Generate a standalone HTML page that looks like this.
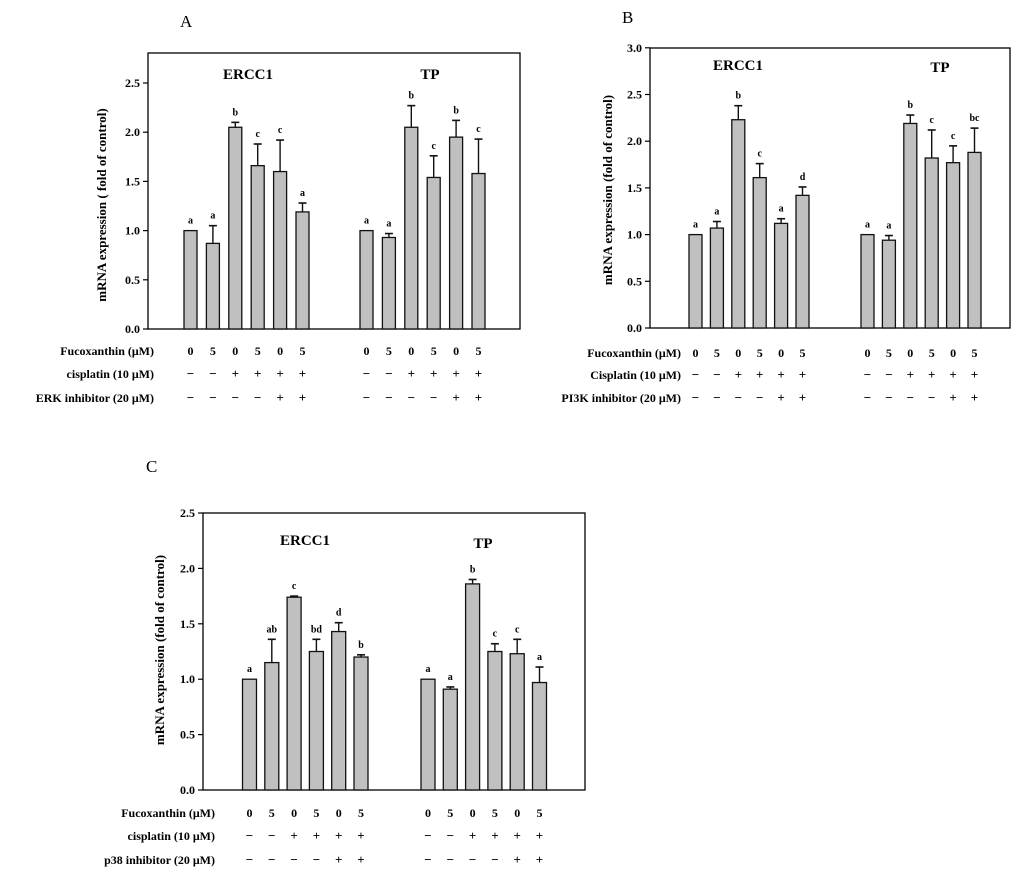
<!DOCTYPE html>
<html><head><meta charset="utf-8">
<style>
body{margin:0;background:#fff;}
svg{display:block;font-family:"Liberation Serif",serif;font-weight:bold;}
</style></head>
<body>
<svg id="fig" width="1024" height="874" viewBox="0 0 1024 874">
<text x="180" y="27" font-size="17" font-weight="normal">A</text>
<text x="622" y="23" font-size="17" font-weight="normal">B</text>
<text x="146" y="472" font-size="17" font-weight="normal">C</text>
</svg>
<script>
// Panel A data
const groupsA = ["ERCC1", "TP"];
const ercc1A = [1.0, 0.87, 2.05, 1.66, 1.60, 1.19];
const ercc1ErrA = [1.0, 1.05, 2.10, 1.88, 1.92, 1.28];
const ercc1LetA = ["a","a","b","c","c","a"];
const tpA = [1.0, 0.93, 2.05, 1.54, 1.95, 1.58];
const tpErrA = [1.0, 0.97, 2.27, 1.76, 2.12, 1.93];
const tpLetA = ["a","a","b","c","b","c"];
const ticksA = ["0.0","0.5","1.0","1.5","2.0","2.5"];
// Panel B data
const ercc1B = [1.0, 1.07, 2.23, 1.61, 1.12, 1.42];
const ercc1ErrB = [1.0, 1.14, 2.38, 1.76, 1.17, 1.51];
const ercc1LetB = ["a","a","b","c","a","d"];
const tpB = [1.0, 0.94, 2.19, 1.82, 1.77, 1.88];
const tpErrB = [1.0, 0.99, 2.28, 2.12, 1.95, 2.14];
const tpLetB = ["a","a","b","c","c","bc"];
const ticksB = ["0.0","0.5","1.0","1.5","2.0","2.5","3.0"];
// Panel C data
const ercc1C = [1.0, 1.15, 1.74, 1.25, 1.43, 1.20];
const ercc1ErrC = [1.0, 1.36, 1.75, 1.36, 1.51, 1.22];
const ercc1LetC = ["a","ab","c","bd","d","b"];
const tpC = [1.0, 0.91, 1.86, 1.25, 1.23, 0.97];
const tpErrC = [1.0, 0.93, 1.90, 1.32, 1.36, 1.11];
const tpLetC = ["a","a","b","c","c","a"];
const ticksC = ["0.0","0.5","1.0","1.5","2.0","2.5"];
// treatment rows
const fucoRow = ["0","5","0","5","0","5"];
const cisRow = ["\u2212","\u2212","+","+","+","+"];
const inhRow = ["\u2212","\u2212","\u2212","\u2212","+","+"];

const NS="http://www.w3.org/2000/svg";
const svg=document.getElementById('fig');
function mk(tag,attrs,txt){const e=document.createElementNS(NS,tag);for(const k in attrs)e.setAttribute(k,attrs[k]);if(txt!==undefined)e.textContent=txt;return e;}

function panel(p){
  const g=mk('g',{});
  
  
  svg.appendChild(g);
  const y=v=>p.y0-v*p.pxPerUnit;
  const fr=mk('rect',{x:p.x0,y:p.top,width:p.right-p.x0,height:p.y0-p.top,fill:'none',stroke:'#000','stroke-width':1.3});
  
  
  g.appendChild(fr);
  p.ticks.forEach(t=>{
    const yy=y(parseFloat(t));
    g.appendChild(mk('line',{x1:p.x0-5,x2:p.x0,y1:yy,y2:yy,stroke:'#000','stroke-width':1.2}));
    const tl=mk('text',{x:p.x0-8,y:yy+4,'font-size':12,'text-anchor':'end'},t);
    
    
    g.appendChild(tl);
  });
  const yt=mk('text',{x:0,y:0,'font-size':13,'text-anchor':'middle',transform:`translate(${p.ytX},${p.ytY}) rotate(-90)`},p.ytitle);
  
  
  g.appendChild(yt);
  const series=[[p.e,p.ee,p.el,p.ex,'ercc1'],[p.t,p.te,p.tl,p.tx,'tp']];
  series.forEach((s,si)=>{
    const [vals,errs,lets,xs,nm]=s;
    const ti=mk('text',{x:p.titleX[si],y:p.titleY[si],'font-size':15,'text-anchor':'middle'},groupsA[si]);
    
    
    g.appendChild(ti);
    vals.forEach((v,i)=>{
      const cx=xs+i*p.step, w=p.bw;
      const b=mk('rect',{x:cx-w/2,y:y(v),width:w,height:p.y0-y(v),fill:'#c0c0c0',stroke:'#111','stroke-width':1.3});
      
      
      g.appendChild(b);
      const et=errs[i];
      if(et>v+0.005){
        g.appendChild(mk('line',{x1:cx,x2:cx,y1:y(v),y2:y(et),stroke:'#111','stroke-width':1.4}));
        g.appendChild(mk('line',{x1:cx-4,x2:cx+4,y1:y(et),y2:y(et),stroke:'#111','stroke-width':1.6}));
      }
      const lt=mk('text',{x:cx,y:y(Math.max(et,v))-7,'font-size':10,'text-anchor':'middle'},lets[i]);
      
      
      g.appendChild(lt);
      [fucoRow,cisRow,inhRow].forEach((row,ri)=>{
        const tt=mk('text',{x:cx,y:p.rowY[ri]+4,'font-size':ri===0?12:13,'text-anchor':'middle'},row[i]);
        
        
        g.appendChild(tt);
      });
    });
  });
  p.rowLabels.forEach((l,ri)=>{
    const tt=mk('text',{x:p.labelX,y:p.rowY[ri]+4,'font-size':12,'text-anchor':'end'},l);
    
    
    g.appendChild(tt);
  });
}

panel({name:'panel-a',x0:148,right:520,top:53,y0:329,pxPerUnit:98.4,ticks:ticksA,
  ytitle:'mRNA expression ( fold of control)',ytX:106,ytY:205,
  e:ercc1A,ee:ercc1ErrA,el:ercc1LetA,t:tpA,te:tpErrA,tl:tpLetA,
  ex:190.5,tx:366.5,step:22.4,bw:13,titleX:[248,430],titleY:[79,79],
  rowY:[351,374,398],labelX:154,
  rowLabels:['Fucoxanthin (\u03BCM)','cisplatin (10 \u03BCM)','ERK inhibitor (20 \u03BCM)']});
panel({name:'panel-b',x0:650,right:1010,top:48,y0:328,pxPerUnit:93.4,ticks:ticksB,
  ytitle:'mRNA expression (fold of control)',ytX:612,ytY:190,
  e:ercc1B,ee:ercc1ErrB,el:ercc1LetB,t:tpB,te:tpErrB,tl:tpLetB,
  ex:695.5,tx:867.5,step:21.4,bw:13,titleX:[738,940],titleY:[70,72],
  rowY:[353,375,398],labelX:681,
  rowLabels:['Fucoxanthin (\u03BCM)','Cisplatin (10 \u03BCM)','PI3K inhibitor (20 \u03BCM)']});
panel({name:'panel-c',x0:203,right:585,top:513,y0:790,pxPerUnit:110.8,ticks:ticksC,
  ytitle:'mRNA expression (fold of control)',ytX:164,ytY:650,
  e:ercc1C,ee:ercc1ErrC,el:ercc1LetC,t:tpC,te:tpErrC,tl:tpLetC,
  ex:249.5,tx:428,step:22.3,bw:14,titleX:[305,483],titleY:[545,548],
  rowY:[813,836,860],labelX:215,
  rowLabels:['Fucoxanthin (\u03BCM)','cisplatin (10 \u03BCM)','p38 inhibitor (20 \u03BCM)']});
</script>
</body></html>
